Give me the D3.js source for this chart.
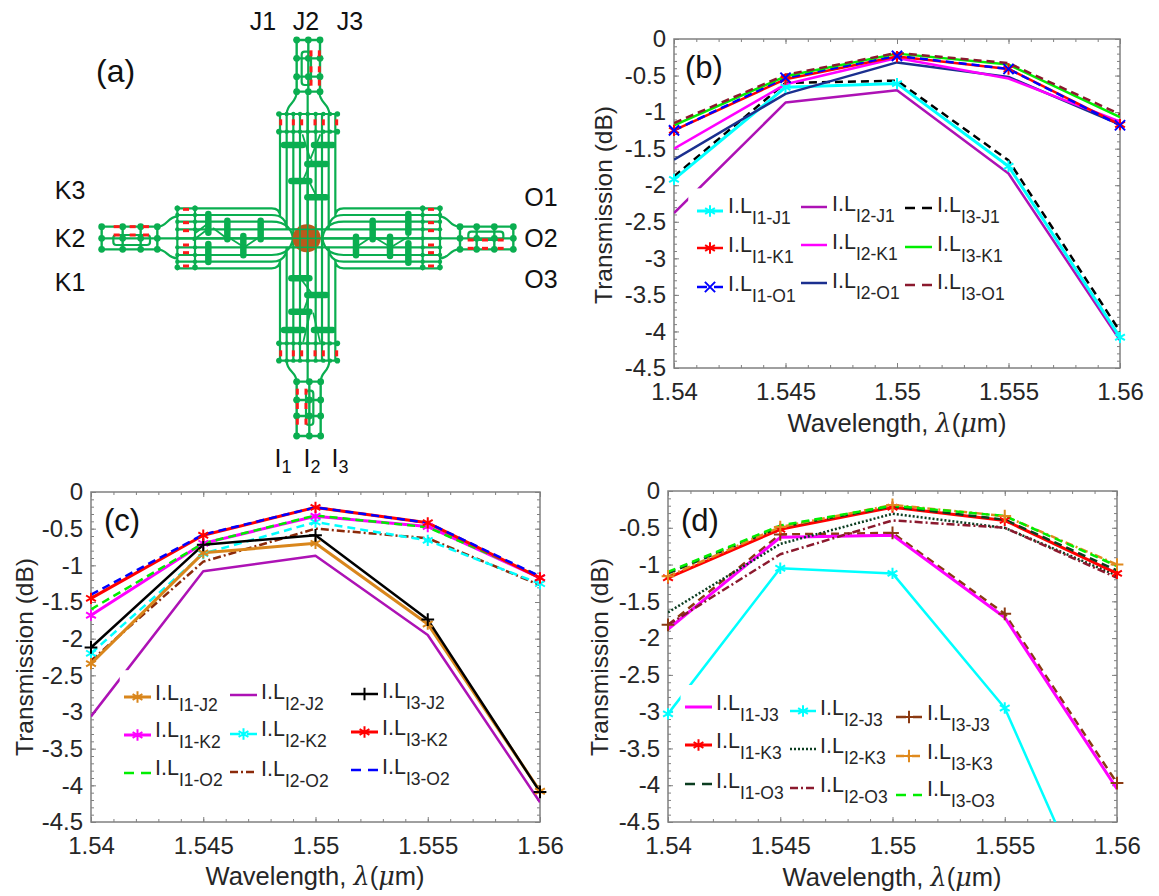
<!DOCTYPE html>
<html><head><meta charset="utf-8">
<script src="https://cdn.jsdelivr.net/npm/d3@7"></script>
<style>html,body{margin:0;background:#fff}svg{display:block}text{font-family:"Liberation Sans",Arial,sans-serif}</style>
</head><body><svg id="c" width="1159" height="896"></svg>
<script>
const wavelengths=[1.54,1.545,1.55,1.555,1.56];
const xTickLabels=["1.54","1.545","1.55","1.555","1.56"];
const yTickValues=[0,-0.5,-1,-1.5,-2,-2.5,-3,-3.5,-4,-4.5];
const yTickLabels=["0","-0.5","-1","-1.5","-2","-2.5","-3","-3.5","-4","-4.5"];

// panel b
const I1_J1=[-1.92,-0.66,-0.61,-1.74,-4.08];
const I2_J1=[-2.38,-0.87,-0.70,-1.84,-4.12];
const I3_J1=[-1.88,-0.60,-0.57,-1.66,-4.00];
const I1_K1=[-1.25,-0.55,-0.24,-0.41,-1.17];
const I2_K1=[-1.50,-0.62,-0.26,-0.54,-1.13];
const I3_K1=[-1.18,-0.51,-0.20,-0.35,-1.07];
const I1_O1=[-1.25,-0.53,-0.23,-0.41,-1.18];
const I2_O1=[-1.65,-0.75,-0.32,-0.52,-1.17];
const I3_O1=[-1.15,-0.49,-0.19,-0.33,-1.03];
// panel c
const I1_J2=[-2.34,-0.83,-0.70,-1.80,-4.08];
const I2_J2=[-3.06,-1.08,-0.87,-1.95,-4.23];
const I3_J2=[-2.12,-0.72,-0.59,-1.74,-4.09];
const I1_K2=[-1.68,-0.70,-0.33,-0.47,-1.17];
const I2_K2=[-2.20,-0.84,-0.41,-0.66,-1.25];
const I3_K2=[-1.45,-0.59,-0.21,-0.42,-1.17];
const I1_O2=[-1.60,-0.70,-0.32,-0.48,-1.15];
const I2_O2=[-2.30,-0.95,-0.50,-0.63,-1.27];
const I3_O2=[-1.40,-0.58,-0.21,-0.42,-1.15];
// panel d
const I1_J3=[-1.88,-0.63,-0.60,-1.72,-4.05];
const I2_J3=[-3.03,-1.05,-1.12,-2.95,-6.40];
const I3_J3=[-1.82,-0.59,-0.57,-1.67,-3.97];
const I1_K3=[-1.18,-0.52,-0.22,-0.40,-1.12];
const I2_K3=[-1.65,-0.72,-0.31,-0.50,-1.15];
const I3_K3=[-1.16,-0.49,-0.19,-0.34,-1.00];
const I1_O3=[-1.12,-0.49,-0.21,-0.39,-1.08];
const I2_O3=[-1.82,-0.86,-0.40,-0.50,-1.18];
const I3_O3=[-1.10,-0.47,-0.20,-0.34,-1.02];

const DASH="8 5",DOT="2 2",DD="8 3 2 3";
const s=(sub,v,color,w,dash,mk)=>({sub,v,color,w,dash,mk});
const panels=[
 {tag:"(b)",tagPos:[685,78],box:[674,1120,39,368],xl:[897,432],yl:[612,205],
  patch:[.032,.454,.74,.80],
  cols:[[697,723,728],[801,827,832],[905,932,937]],
  rows:[[211,248,287],[207,245,283],[208,247,285]],
  base:[[213,252,291],[211,249,288],[212,251,289]],
  series:[s("I2-J1",I2_J1,"#ad12b5",2.5),s("I3-J1",I3_J1,"#000",2.5,DASH),s("I1-J1",I1_J1,"#00ffff",3,null,"a"),
   s("I2-O1",I2_O1,"#1b2f8f",2.5),s("I2-K1",I2_K1,"#ff00ff",2.5),s("I1-K1",I1_K1,"#ff0000",2.5,null,"a"),s("I1-O1",I1_O1,"#0000ff",2.5,DASH,"x"),
   s("I3-K1",I3_K1,"#00ee00",2.5),s("I3-O1",I3_O1,"#8b1a2e",2.5,DASH)],
  legend:[["I1-J1","I1-K1","I1-O1"],["I2-J1","I2-K1","I2-O1"],["I3-J1","I3-K1","I3-O1"]]},
 {tag:"(c)",tagPos:[104,531],box:[91,540,492,822],xl:[315,885],yl:[33,657],
  patch:[.064,.54,.795,.96],
  cols:[[124,151,155],[230,257,261],[351,378,382]],
  rows:[[697,735,773],[695,734,772],[694,732,770]],
  base:[[700,737,775],[699,736,776],[698,735,774]],
  series:[s("I2-J2",I2_J2,"#ad12b5",2.5),s("I2-O2",I2_O2,"#8b2a0a",2.5,DD),s("I2-K2",I2_K2,"#00ffff",2.5,DASH,"a"),s("I1-J2",I1_J2,"#d9861c",3,null,"a"),
   s("I1-K2",I1_K2,"#ff00ff",3,null,"a"),s("I1-O2",I1_O2,"#00ee00",2.5,DASH),s("I3-J2",I3_J2,"#000",2.5,null,"p"),
   s("I3-K2",I3_K2,"#ff0000",3,null,"a"),s("I3-O2",I3_O2,"#0000ff",2.5,DASH)],
  legend:[["I1-J2","I1-K2","I1-O2"],["I2-J2","I2-K2","I2-O2"],["I3-J2","I3-K2","I3-O2"]]},
 {tag:"(d)",tagPos:[681,531],box:[668,1117,491,822],xl:[892,886],yl:[608,657],
  patch:[.028,.586,.31,.95],
  cols:[[685,712,716],[790,816,820],[896,922,927]],
  rows:[[707,745,784],[711,749,788],[717,756,795]],
  base:[[710,748,788],[715,753,792],[720,759,796]],
  series:[s("I2-J3",I2_J3,"#00ffff",2.5,null,"a"),s("I3-J3",I3_J3,"#8b3a12",2.5,DASH,"p"),s("I1-J3",I1_J3,"#ff00ff",3),
   s("I2-K3",I2_K3,"#0b3d20",2.5,DOT),s("I2-O3",I2_O3,"#8b1a2e",2.5,DD),s("I1-K3",I1_K3,"#ff0000",3,null,"a"),
   s("I1-O3",I1_O3,"#0b3d20",2.5,DASH),s("I3-K3",I3_K3,"#e08a1e",2.5,DD,"p"),s("I3-O3",I3_O3,"#00ee00",2.5,DASH)],
  legend:[["I1-J3","I1-K3","I1-O3"],["I2-J3","I2-K3","I2-O3"],["I3-J3","I3-K3","I3-O3"]]}
];

const svg=d3.select("#c");
const defs=svg.append("defs");
const INK="#262626",FRAME="#808080";
const sym=k=>k==="p"?d3.symbol().type(d3.symbolPlus).size(55)():k==="x"?d3.symbol().type(d3.symbolTimes).size(70)():d3.symbol().type(d3.symbolAsterisk).size(90)();

panels.forEach((p,i)=>{
 const [l,r,t,b]=p.box,W=r-l,H=b-t;
 const x=d3.scaleLinear().domain([1.54,1.56]).range([l,r]);
 const y=d3.scaleLinear().domain([0,-4.5]).range([t,b]);
 const g=svg.append("g");
 defs.append("clipPath").attr("id","cp"+i).append("rect").attr("x",l).attr("y",t).attr("width",W).attr("height",H);
 const minorX=d3.range(0,21).map(k=>1.54+k*0.001),minorY=d3.range(0,46).map(k=>-k*0.1);
 const ax=[
  [d3.axisBottom(x),b,0,minorX,wavelengths,xTickLabels,15],
  [d3.axisTop(x),t,0,minorX,wavelengths,null,8],
  [d3.axisLeft(y),0,l,minorY,yTickValues,yTickLabels,8],
  [d3.axisRight(y),0,r,minorY,yTickValues,null,8]];
 ax.forEach(([a,ty,tx,minor,maj,labs,pad])=>{
  const gx=g.append("g").attr("transform",`translate(${tx},${ty})`)
   .call(a.tickValues(maj).tickSize(-5).tickPadding(pad).tickSizeOuter(0)
   .tickFormat((d,k)=>labs?labs[k]:""));
  gx.selectAll("path").remove();
  gx.selectAll("line").attr("stroke",FRAME).attr("stroke-width",1);
  gx.selectAll("text").attr("fill",INK).attr("font-size",24).attr("font-family",'"Liberation Sans",Arial,sans-serif');
  const gm=g.append("g").attr("transform",`translate(${tx},${ty})`)
   .call(a.tickValues(minor).tickSize(-3).tickFormat(""));
  gm.selectAll("path").remove();
  gm.selectAll("line").attr("stroke",FRAME).attr("stroke-width",1);
 });
 g.append("rect").attr("x",l).attr("y",t).attr("width",W).attr("height",H).attr("fill","none").attr("stroke",FRAME).attr("stroke-width",1.5);
 const line=d3.line().x((d,k)=>x(wavelengths[k])).y(d=>y(d));
 const lg=g.append("g").attr("clip-path",`url(#cp${i})`);
 lg.selectAll("path").data(p.series).join("path").attr("d",d=>line(d.v)).attr("fill","none")
   .attr("stroke",d=>d.color).attr("stroke-width",d=>d.w).attr("stroke-dasharray",d=>d.dash||null).attr("stroke-linejoin","round");
 p.series.filter(d=>d.mk).forEach(d=>{
  g.append("g").selectAll("path").data(d.v.map((v,k)=>[k,v]).filter(e=>e[1]>=-4.5)).join("path")
   .attr("d",sym(d.mk)).attr("transform",e=>`translate(${x(wavelengths[e[0]])},${y(e[1])})`)
   .attr("fill","none").attr("stroke",d.color).attr("stroke-width",2);
 });
 // white legend background hides the lines behind it
 g.append("rect").attr("x",l+p.patch[0]*W).attr("y",t+p.patch[1]*H)
   .attr("width",(p.patch[2]-p.patch[0])*W).attr("height",(p.patch[3]-p.patch[1])*H).attr("fill","#fff");
 p.legend.forEach((col,ci)=>col.forEach((name,ri)=>{
  const se=p.series.find(d=>d.sub===name),c=p.cols[ci];
  g.append("line").attr("x1",c[0]).attr("x2",c[1]).attr("y1",p.rows[ci][ri]).attr("y2",p.rows[ci][ri])
   .attr("stroke",se.color).attr("stroke-width",se.w).attr("stroke-dasharray",se.dash===DASH?"10 7":(se.dash||null));
  if(se.mk) g.append("path").attr("d",sym(se.mk)).attr("transform",`translate(${(c[0]+c[1])/2},${p.rows[ci][ri]})`)
   .attr("fill","none").attr("stroke",se.color).attr("stroke-width",2);
  const tx=g.append("text").attr("x",c[2]).attr("y",p.base[ci][ri]).attr("fill",INK).attr("font-size",21.5);
  tx.append("tspan").text("I.L");
  tx.append("tspan").attr("font-size",17.5).attr("dy",11).text(name);
 }));
 g.append("text").attr("x",p.tagPos[0]).attr("y",p.tagPos[1]).attr("font-size",31).attr("fill","#111").text(p.tag);
 const xl=g.append("text").attr("x",p.xl[0]).attr("y",p.xl[1]).attr("text-anchor","middle").attr("font-size",25.5).attr("fill",INK);
 xl.append("tspan").text("Wavelength, ");
 xl.append("tspan").attr("font-style","italic").attr("font-family","'DejaVu Serif',serif").text("λ");
 xl.append("tspan").text("(");
 xl.append("tspan").attr("font-style","italic").attr("font-family","'DejaVu Serif',serif").text("μ");
 xl.append("tspan").text("m)");
 g.append("text").attr("transform",`translate(${p.yl[0]},${p.yl[1]}) rotate(-90)`).attr("text-anchor","middle")
   .attr("font-size",24.5).attr("fill",INK).text("Transmission (dB)");
});

// ---- panel (a): device schematic, in schematic units ----
const GREEN="#0aae50",RED="#ff1a1a";
const sx=d3.scaleLinear().domain([0,1440]).range([80,560]);
const sy=d3.scaleLinear().domain([0,1380]).range([20,480]);
const dg=svg.append("g");
const wires=dg.append("g").attr("fill","none").attr("stroke",GREEN).attr("stroke-width",2.2);
const seg=(x1,y1,x2,y2,w)=>wires.append("line").attr("x1",sx(x1)).attr("y1",sy(y1)).attr("x2",sx(x2)).attr("y2",sy(y2)).attr("stroke-width",w||null).attr("stroke-linecap","round");
const curve=(pts)=>{const p=d3.path();p.moveTo(sx(pts[0]),sy(pts[1]));p.bezierCurveTo(sx(pts[2]),sy(pts[3]),sx(pts[4]),sy(pts[5]),sx(pts[6]),sy(pts[7]));wires.append("path").attr("d",p.toString());};

const armXInner=[660,683,707],armYInner=[628,655,682];
armXInner.forEach(v=>seg(v,282,v,1022));
armYInner.forEach(v=>seg(292,v,1080,v));
seg(683,215,683,1085);seg(232,655,1135,655);

const radii=[25,45,65],xOff=[83,63,43],yOff=[90,70,50];
[[-1,-1],[1,-1],[-1,1],[1,1]].forEach(([qx,qy])=>{
 radii.forEach((rad,k)=>{
  const vx=683+qx*xOff[k],hy=655+qy*yOff[k];
  const endY=qy<0?282:1022,endX=qx<0?292:1080;
  const p=d3.path();
  p.moveTo(sx(vx),sy(endY));
  p.lineTo(sx(vx),sy(hy-qy*rad));
  p.quadraticCurveTo(sx(vx),sy(hy),sx(vx+qx*rad),sy(hy));
  p.lineTo(sx(endX),sy(hy));
  wires.append("path").attr("d",p.toString());
 });
});

// bars across the four arms
const barsTop=[282,335],barsBottom=[970,1022],barsLeft=[292,345],barsRight=[1028,1080];
barsTop.concat(barsBottom).forEach(v=>{seg(592,v,776,v);[597,772].forEach(e=>dg.append("circle").attr("cx",sx(e)).attr("cy",sy(v)).attr("r",2.8).attr("fill",GREEN));});
barsLeft.concat(barsRight).forEach(v=>{seg(v,560,v,748);[565,742].forEach(e=>dg.append("circle").attr("cx",sx(v)).attr("cy",sy(e)).attr("r",2.8).attr("fill",GREEN));});
[620,640,660,683,707,730,750].forEach(v=>barsTop.concat(barsBottom).forEach(h=>dg.append("circle").attr("cx",sx(v)).attr("cy",sy(h)).attr("r",2.2).attr("fill",GREEN)));
[585,605,628,655,682,705,725].forEach(h=>barsLeft.concat(barsRight).forEach(v=>dg.append("circle").attr("cx",sx(v)).attr("cy",sy(h)).attr("r",2.2).attr("fill",GREEN)));

// funnels
[[620,282,620,250,650,250,650,215],[748,282,748,250,718,250,718,215],
 [620,1022,620,1055,650,1055,650,1085],[748,1022,748,1055,722,1055,722,1085],
 [292,590,262,590,262,620,232,620],[292,715,262,715,262,688,232,688],
 [1080,590,1108,590,1108,620,1138,620],[1080,715,1108,715,1108,688,1138,688]].forEach(curve);

// input/output stubs
const stubV=[[650,685,720],[60,115,170,215]],stubB=[[650,688,722],[1085,1140,1188,1248]];
const stubL=[[65,128,182,232],[620,655,688]],stubR=[[1140,1190,1243,1300],[620,655,688]];
const grid=(xs,ys,horizontalBars)=>{
 xs.forEach(v=>seg(v,ys[0],v,ys[ys.length-1],2.4));
 ys.forEach(h=>seg(xs[0]-(horizontalBars?6:0),h,xs[xs.length-1]+(horizontalBars?6:0),h,2.4));
 xs.forEach(v=>ys.forEach(h=>dg.append("circle").attr("cx",sx(v)).attr("cy",sy(h)).attr("r",3.4).attr("fill",GREEN)));
};
grid(stubV[0],stubV[1],true);grid(stubB[0],stubB[1],true);grid(stubL[0],stubL[1],false);grid(stubR[0],stubR[1],false);
[[665,95,693,195],[678,1112,700,1215],[100,645,210,675],[1165,635,1270,660]].forEach(([a,b,c,d])=>wires.append("rect").attr("x",sx(a)).attr("y",sy(b)).attr("width",sx(c)-sx(a)).attr("height",sy(d)-sy(b)).attr("rx",3));
// diagonal links
[[668,345,690,415],[720,345,692,415],[665,490,695,420],[690,490,710,530],[665,780,695,820],[690,820,668,880],[690,880,670,965],[700,880,720,965],[345,640,385,610],[400,625,440,655],[450,655,490,680],[495,680,540,650],[830,680,875,650],[880,650,930,680],[935,680,985,650],[340,660,380,630]].forEach(d=>seg(d[0],d[1],d[2],d[3],1.8));

// couplers
const couplersH=[[612,668,375],[702,758,375],[682,738,432],[634,688,483],[682,738,532],[634,688,775],[682,738,825],[634,688,875],[612,668,930],[702,758,930]];
const couplersV=[[385,582,638],[385,672,726],[442,602,658],[490,648,706],[542,602,658],[878,602,658],[985,582,638],[828,650,706],[930,650,708],[985,670,728]];
couplersH.forEach(c=>seg(c[0],c[2],c[1],c[2],6.5));
couplersV.forEach(c=>seg(c[0],c[1],c[0],c[2],6.5));

dg.append("circle").attr("cx",sx(680)).attr("cy",sy(655)).attr("r",14).attr("fill","#b85a1c");
const overlay=dg.append("g").attr("stroke",GREEN).attr("stroke-width",1.5);
armXInner.forEach(v=>overlay.append("line").attr("x1",sx(v)).attr("x2",sx(v)).attr("y1",sy(612)).attr("y2",sy(698)));
armYInner.forEach(v=>overlay.append("line").attr("x1",sx(638)).attr("x2",sx(722)).attr("y1",sy(v)).attr("y2",sy(v)));

// phase shifter marks
const redV=[[602,307],[640,307],[665,307],[705,307],[730,307],[770,307],[602,1000],[640,1000],[665,1000],[705,1000],[730,1000],[770,1000],[693,100],[718,100],[693,148],[718,148],[693,188],[718,188],[652,1115],[678,1115],[652,1158],[678,1158],[652,1205],[678,1205]];
const redH=[[318,568],[318,608],[318,632],[318,675],[318,698],[318,738],[1053,568],[1053,608],[1053,632],[1053,675],[1053,698],[1053,738],[110,620],[158,620],[198,620],[110,645],[158,645],[198,645],[1172,660],[1215,660],[1262,660],[1172,685],[1215,685],[1262,685]];
dg.selectAll("rect.rv").data(redV).join("rect").attr("class","rv").attr("x",d=>sx(d[0])-1.5).attr("y",d=>sy(d[1])-3).attr("width",3).attr("height",6).attr("fill",RED);
dg.selectAll("rect.rh").data(redH).join("rect").attr("class","rh").attr("x",d=>sx(d[0])-3).attr("y",d=>sy(d[1])-1.5).attr("width",6).attr("height",3).attr("fill",RED);

const portLabels=[["J1",263,30],["J2",306,30],["J3",350,30],["K3",70,199],["K2",70,247],["K1",70,291],["O1",541,206],["O2",541,247],["O3",541,288]];
portLabels.forEach(d=>dg.append("text").attr("x",d[1]).attr("y",d[2]).attr("text-anchor","middle").attr("font-size",25).attr("fill","#111").text(d[0]));
[["I","1",283],["I","2",312],["I","3",340]].forEach(d=>{
 const t=dg.append("text").attr("x",d[2]).attr("y",467).attr("text-anchor","middle").attr("font-size",25).attr("fill","#111");
 t.append("tspan").text(d[0]);t.append("tspan").attr("font-size",18).attr("dy",6).text(d[1]);
});
dg.append("text").attr("x",96).attr("y",82).attr("font-size",32).attr("fill","#111").text("(a)");
</script></body></html>
